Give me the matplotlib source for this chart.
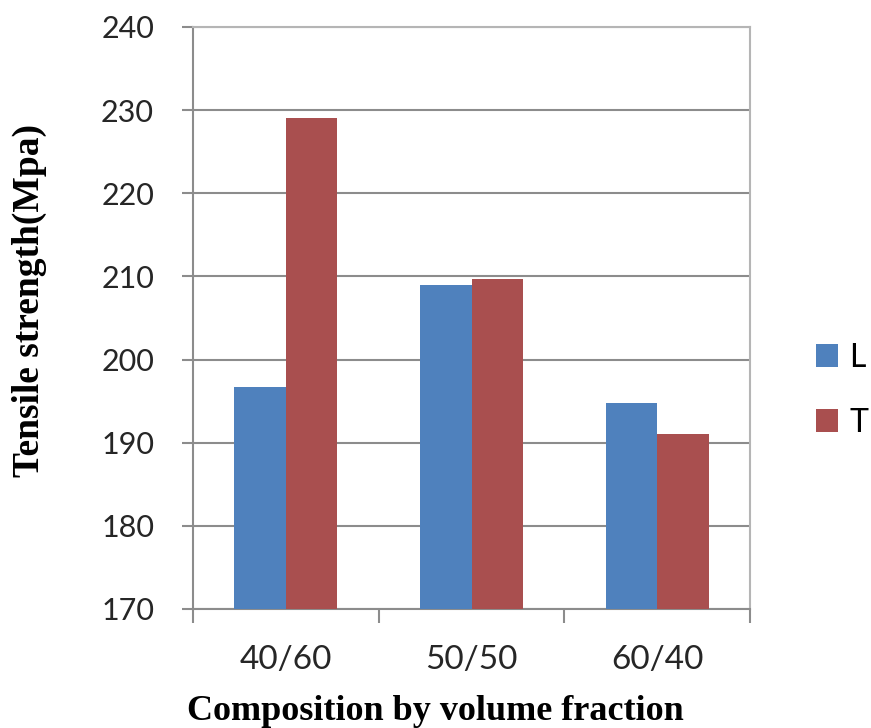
import numpy as np
import matplotlib.pyplot as plt

# tensile strength per composition, longitudinal (L) and transverse (T)
compositions = ['40/60', '50/50', '60/40']
strength_L = [196.7, 209, 194.8]
strength_T = [229, 209.7, 191.1]

fig = plt.figure(figsize=(8.71, 7.28), dpi=100)
ax = fig.add_axes([0.2216, 0.1635, 0.6395, 0.7995])

x = np.arange(len(compositions))
w = 0.277
ax.bar(x - w/2, strength_L, w, color='#4F81BD', label='L', zorder=3)
ax.bar(x + w/2, strength_T, w, color='#A94F4F', label='T', zorder=3)

ax.set_ylim(170, 240)
ax.set_xlim(-0.5, 2.5)
ax.set_yticks(range(170, 241, 10))
ax.yaxis.grid(True, color='#8c8c8c', linewidth=1.5, zorder=0)

ax.set_xticks(x)
ax.set_xticklabels(compositions)
ax.set_xticks([-0.5, 0.5, 1.5, 2.5], minor=True)
ax.tick_params(axis='x', which='major', length=0, pad=26)
ax.tick_params(axis='x', which='minor', length=10, color='#8c8c8c', width=1.5)
ax.tick_params(axis='y', length=8, color='#8c8c8c', width=1.5, pad=20)
for lab in ax.get_yticklabels():
    lab.set_fontfamily('Lato')
    lab.set_fontsize(22)
    lab.set_color('#262626')
for lab in ax.get_xticklabels():
    lab.set_fontfamily('Lato')
    lab.set_fontsize(24)
    lab.set_color('#262626')

for s in ax.spines.values():
    s.set_color('#b5b5b5')
    s.set_linewidth(1.5)
ax.spines['left'].set_color('#8c8c8c')
ax.spines['bottom'].set_color('#8c8c8c')

fig.text(0.034, 0.587, 'Tensile strength(Mpa)', family='Liberation Serif',
         weight='bold', size=27, rotation=90, ha='center', va='center')
fig.text(0.5, 0.011, 'Composition by volume fraction', family='Liberation Serif',
         weight='bold', size=26, ha='center', va='baseline')

ax.legend(loc='center left', bbox_to_anchor=(0.937, 0.464),
          bbox_transform=fig.transFigure, frameon=False, borderpad=0,
          borderaxespad=0, handlelength=0.7, handleheight=0.7,
          handletextpad=0.33, labelspacing=1.1,
          prop={'family': 'Lato', 'size': 23})

fig.savefig('out.png', dpi=100)
